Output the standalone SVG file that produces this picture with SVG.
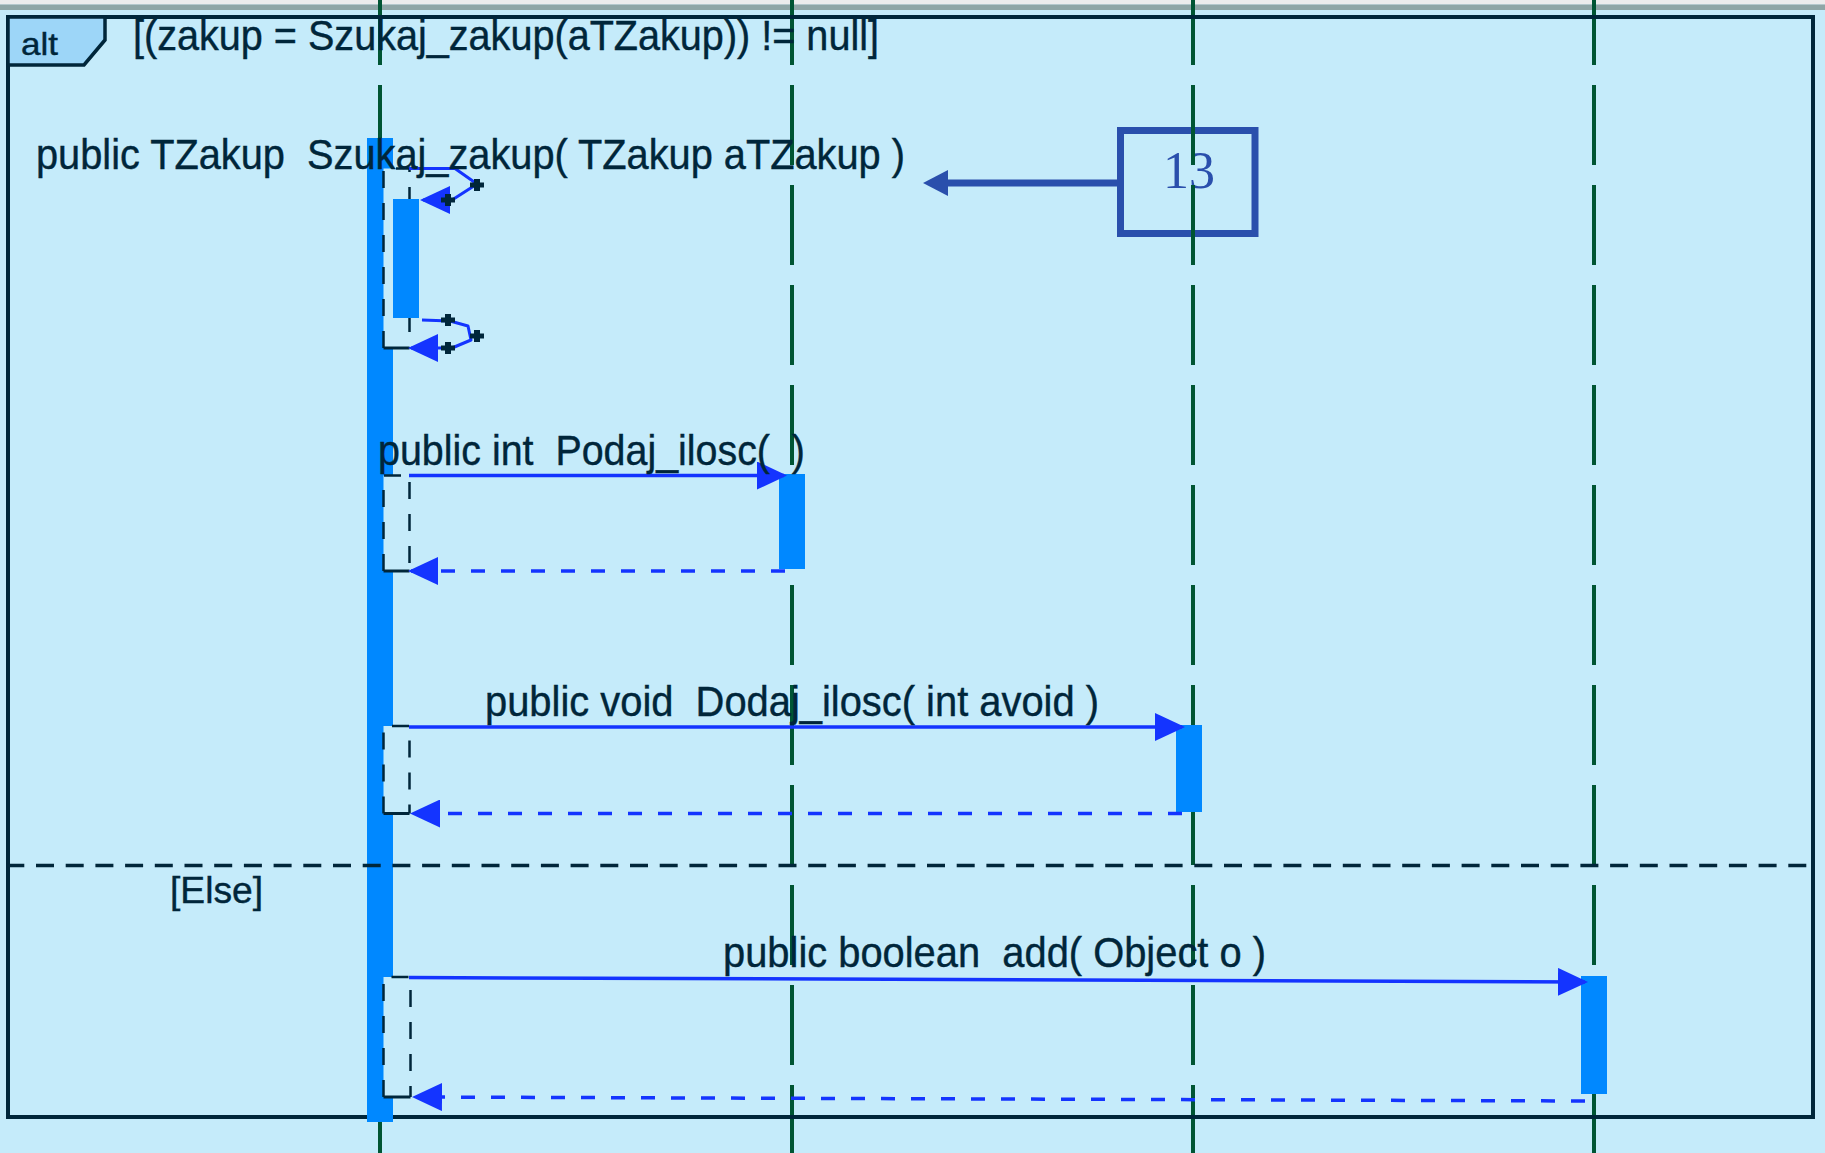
<svg xmlns="http://www.w3.org/2000/svg" width="1825" height="1153" viewBox="0 0 1825 1153" xml:space="preserve">
<defs>
<style>
.txt{font-family:"Liberation Sans",Arial,sans-serif;font-size:43px;fill:#00263a;stroke:#00263a;stroke-width:0.4;white-space:pre}
.life{stroke:#005533;stroke-width:4;stroke-dasharray:80 20;stroke-dashoffset:15;fill:none}
.bar{fill:#0088ff}
.ex{fill:#c5ebfa}
.exd{fill:none;stroke:#00263a;stroke-width:2.5;stroke-dasharray:17 15}
.exs{fill:none;stroke:#00263a;stroke-width:3}
.call{fill:none;stroke:#1434ff;stroke-width:3.5;marker-end:url(#ah)}
.ret{fill:none;stroke:#1434ff;stroke-width:3.5;stroke-dasharray:14 16;marker-end:url(#ah)}
.self{fill:none;stroke:#1434ff;stroke-width:3;stroke-linejoin:round;marker-end:url(#ah)}
</style>
<marker id="ah" markerUnits="userSpaceOnUse" markerWidth="30" markerHeight="28" viewBox="0 0 30 28" refX="27" refY="14" orient="auto"><path d="M0,0L30,14L0,28z" fill="#1434ff"/></marker>
<path id="dot" d="M-3,-6h6v3.5h4v5h-4v3.5h-6v-3.5h-4v-5h4z" fill="#00263a"/>
</defs>
<rect x="0" y="0" width="1825" height="1153" fill="#c5ebfa"/>
<rect x="0" y="0" width="1825" height="4.5" fill="#ececec"/>
<rect x="0" y="4.5" width="1825" height="5.5" fill="#8fa6a6"/>

<g id="note13">
<rect x="1120.5" y="130.5" width="134.5" height="103" fill="none" stroke="#2a4fac" stroke-width="7"/>
<line x1="1117" y1="183" x2="946" y2="183" stroke="#2a4fac" stroke-width="7"/>
<polygon points="923,183 948,170 948,196" fill="#2a4fac"/>
<text x="1189" y="188" text-anchor="middle" font-family="'Liberation Serif','Times New Roman',serif" font-size="52" fill="#2a4fac">13</text>
</g>

<g id="lifelines">
<line class="life" x1="380" y1="0" x2="380" y2="1153"/>
<line class="life" x1="792" y1="0" x2="792" y2="1153"/>
<line class="life" x1="1193" y1="0" x2="1193" y2="1153"/>
<line class="life" x1="1594" y1="0" x2="1594" y2="1153"/>
</g>

<g id="alt-frame">
<rect x="8" y="17" width="1805" height="1100" fill="none" stroke="#00263a" stroke-width="4"/>
<path d="M8,17 H105 V40 L84,65 H8 Z" fill="#9dd6f8" stroke="#00263a" stroke-width="3.5"/>
<text class="txt" x="21" y="55" style="font-size:32px" textLength="37" lengthAdjust="spacingAndGlyphs">alt</text>
<text class="txt" x="133" y="50" textLength="746" lengthAdjust="spacingAndGlyphs">[(zakup = Szukaj_zakup(aTZakup)) != null]</text>
<text class="txt" x="170" y="903" style="font-size:36px" textLength="93" lengthAdjust="spacingAndGlyphs">[Else]</text>
</g>

<g id="activation-main">
<rect class="bar" x="367" y="138" width="26" height="984"/>
</g>
<g id="activation-podaj"><rect class="bar" x="779" y="474" width="26" height="95"/></g>
<g id="activation-dodaj"><rect class="bar" x="1176" y="725" width="26" height="87"/></g>
<g id="activation-add"><rect class="bar" x="1581" y="976" width="26" height="118"/></g>

<g id="exec-self">
<rect class="ex" x="383.5" y="168.5" width="26" height="179.5"/>
<path class="exd" d="M383.5,348 V168.5 H409.5 V348"/>
<path class="exs" d="M383.5,348 H409.5"/>
<rect class="bar" x="393" y="199" width="26" height="119"/>
</g>
<g id="exec-podaj">
<rect class="ex" x="383.5" y="475.5" width="26" height="95.5"/>
<path class="exd" d="M383.5,571 V475.5 H409.5 V571"/>
<path class="exs" d="M383.5,571 H409.5"/>
</g>
<g id="exec-dodaj">
<rect class="ex" x="383.5" y="726" width="26" height="87.5"/>
<path class="exd" d="M383.5,813.5 V726 H409.5 V813.5"/>
<path class="exs" d="M383.5,813.5 H409.5"/>
</g>
<g id="exec-add">
<rect class="ex" x="383.5" y="977" width="27" height="120"/>
<path class="exd" d="M383.5,1097 V977 H410.5 V1097"/>
<path class="exs" d="M383.5,1097 H410.5"/>
</g>

<g id="messages">
<path class="self" d="M409,168.5 L455,168.5 L477,184 L452,200 L423,200"/>
<path class="self" d="M422,320 L450,321 L468,326 L471,340 L452,348 L411,348"/>
<path class="call" d="M409,475.5 L784,475.5"/>
<path class="ret" d="M785,571 L411,571"/>
<path class="call" d="M409,727 L1182,727"/>
<path class="ret" d="M1182,813.5 L413,813.5"/>
<path class="call" d="M409,977.5 L1585,982"/>
<path class="ret" d="M1585,1101 L415,1097"/>
</g>

<g id="labels">
<text class="txt" x="36" y="169" textLength="869" lengthAdjust="spacingAndGlyphs">public TZakup  Szukaj_zakup( TZakup aTZakup )</text>
<text class="txt" x="378" y="465" textLength="427" lengthAdjust="spacingAndGlyphs">public int  Podaj_ilosc(  )</text>
<text class="txt" x="485" y="716" textLength="614" lengthAdjust="spacingAndGlyphs">public void  Dodaj_ilosc( int avoid )</text>
<text class="txt" x="723" y="967" textLength="543" lengthAdjust="spacingAndGlyphs">public boolean  add( Object o )</text>
</g>

<g id="separator">
<line x1="6.3" y1="865.5" x2="1811" y2="865.5" stroke="#00263a" stroke-width="3.5" stroke-dasharray="18 11.7"/>
</g>

<g id="handles">
<use href="#dot" x="477" y="185"/>
<use href="#dot" x="448" y="200"/>
<use href="#dot" x="448" y="320"/>
<use href="#dot" x="477" y="336"/>
<use href="#dot" x="448" y="348"/>
</g>
</svg>
